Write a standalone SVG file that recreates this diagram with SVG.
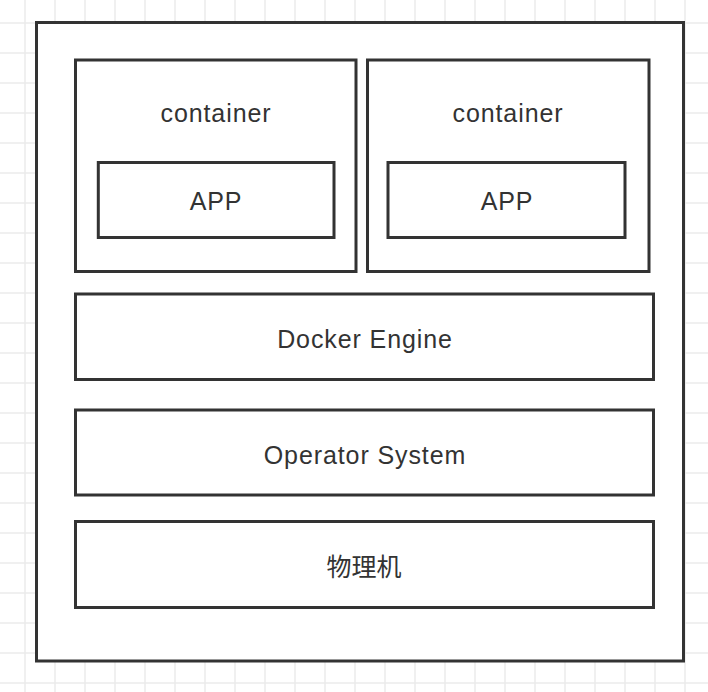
<svg xmlns="http://www.w3.org/2000/svg" width="708" height="692" viewBox="0 0 708 692">
  <defs>
    <pattern id="grid" x="10" y="8" width="30" height="30" patternUnits="userSpaceOnUse">
      <path d="M15 0V30M0 15H30" fill="none" stroke="#ebebeb" stroke-width="1.5"/>
    </pattern>
  </defs>
  <style>
    .box { fill: #ffffff; stroke: #333333; stroke-width: 3; }
    .lbl { font-family: "Liberation Sans", Arial, "Noto Sans CJK SC", sans-serif; font-size: 25px; letter-spacing: 0.9px; fill: #333333; text-anchor: middle; }
    .cjk { font-family: "Noto Sans CJK SC", "Noto Sans", sans-serif; font-size: 25px; fill: #333333; text-anchor: middle; }
  </style>
  <rect x="0" y="0" width="708" height="692" fill="#ffffff"/>
  <rect x="0" y="0" width="708" height="692" fill="url(#grid)"/>

  <g id="host">
    <rect class="box" x="36.5" y="22.5" width="647" height="638.5"/>
  </g>
  <g id="container1">
    <rect class="box" x="75.5" y="60" width="280.5" height="211.5"/>
    <text class="lbl" x="216" y="122">container</text>
  </g>
  <g id="app1">
    <rect class="box" x="98.3" y="162.5" width="235.7" height="75"/>
    <text class="lbl" x="216" y="210">APP</text>
  </g>
  <g id="container2">
    <rect class="box" x="367.5" y="60" width="281.5" height="211.5"/>
    <text class="lbl" x="508" y="122">container</text>
  </g>
  <g id="app2">
    <rect class="box" x="388" y="162.5" width="237" height="75"/>
    <text class="lbl" x="507" y="210">APP</text>
  </g>
  <g id="docker-engine">
    <rect class="box" x="75.5" y="294" width="578" height="85.5"/>
    <text class="lbl" x="365" y="347.5">Docker Engine</text>
  </g>
  <g id="operator-system">
    <rect class="box" x="75.5" y="410" width="578" height="85"/>
    <text class="lbl" x="365" y="464">Operator System</text>
  </g>
  <g id="physical-machine">
    <rect class="box" x="75.5" y="521.5" width="578" height="86"/>
    <text class="cjk" x="364" y="575.5">物理机</text>
  </g>
  <g id="connectors"></g>
</svg>
